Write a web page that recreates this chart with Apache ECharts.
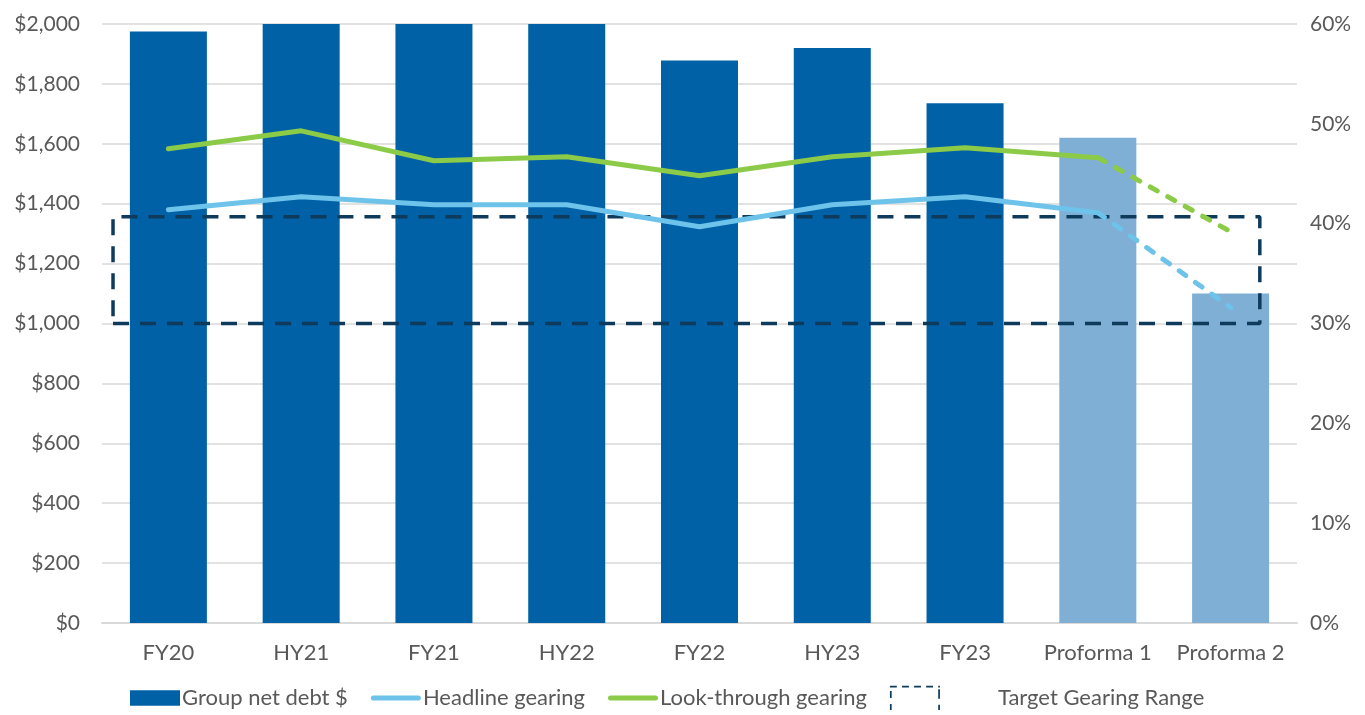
<!DOCTYPE html>
<html>
<head>
<meta charset="utf-8">
<script src="https://cdn.jsdelivr.net/npm/echarts@6/dist/echarts.min.js"></script>
<style>
html,body{margin:0;padding:0;background:#fff;}
#chart{width:1365px;height:715px;}
</style>
</head>
<body>
<div id="chart"></div>
<script>
const categories = ['FY20','HY21','FY21','HY22','FY22','HY23','FY23','Proforma 1','Proforma 2'];
const netDebt = [1975, 2050, 2050, 2050, 1878, 1920, 1735, 1620, 1100];
const proformaFlags = [false, false, false, false, false, false, false, true, true];
const headlineGearing = [41.4, 42.7, 41.9, 41.9, 39.7, 41.9, 42.7, 41.1, 31.6];
const lookThroughGearing = [47.5, 49.3, 46.3, 46.7, 44.8, 46.7, 47.6, 46.6, 39.2];
const targetRangeX = [0.083, 8.72];
const targetRangeY = [30, 40.7];
const leftTicks = {min: 0, max: 2000, interval: 200};
const rightTicks = {min: 0, max: 60, interval: 10};

const DARK = '#0061A7';
const LIGHT = '#7FAFD4';
const HEAD = '#6DC3EA';
const LOOK = '#8CCB48';
const NAVY = '#0E3A5B';
const TXT = '#595959';
const FONT = 'Lato';

const solidPart = arr => arr.map((v, i) => (i < arr.length - 1 ? v : null));
const dashPart = arr => arr.map((v, i) => (i >= arr.length - 2 ? v : null));

const rectData = [
  [targetRangeX[0], targetRangeY[0]],
  [targetRangeX[1], targetRangeY[0]],
  [targetRangeX[1], targetRangeY[1]],
  [targetRangeX[0], targetRangeY[1]],
  [targetRangeX[0], targetRangeY[0]]
];

const dashBoxIcon = 'path://M0,0h8v2h-8z M14,0h8v2h-8z M28,0h8v2h-8z M42,0h8v2h-8z M56,0h2v2h-2z M56,4h2v11h-2z M56,22h2v6h-2z M0,6h2v8h-2z M0,21h2v7h-2z';
const barIcon = 'path://M0,0h45v14h-45z';
const lineIcon = 'path://M2.5,0h45a2.5,2.5 0 0 1 0,5h-45a2.5,2.5 0 0 1 0,-5z';

const chart = echarts.init(document.getElementById('chart'));
chart.setOption({
  animation: false,
  textStyle: {fontFamily: FONT},
  grid: {left: 102, right: 68, top: 24, bottom: 92, containLabel: false},
  legend: {
    bottom: 0,
    left: 125,
    itemWidth: 50,
    itemHeight: 28,
    itemGap: 23,
    textStyle: {color: TXT, fontSize: 22, fontFamily: FONT, padding: [0, 0, 0, -3]},
    data: [
      {name: 'Group net debt $', icon: barIcon},
      {name: 'Headline gearing', icon: lineIcon},
      {name: 'Look-through gearing', icon: lineIcon},
      {name: 'Target Gearing Range', icon: dashBoxIcon, textStyle: {padding: [0, 0, 0, 53]}}
    ]
  },
  xAxis: [
    {
      type: 'category',
      data: categories,
      axisLine: {show: true, lineStyle: {color: '#D9D9D9', width: 2}},
      axisTick: {show: false},
      axisLabel: {color: TXT, fontSize: 22, margin: 19, fontFamily: FONT, interval: 0}
    },
    {
      type: 'value', min: 0, max: 9, show: false, gridIndex: 0
    }
  ],
  yAxis: [
    {
      type: 'value',
      min: leftTicks.min, max: leftTicks.max, interval: leftTicks.interval,
      axisLine: {show: false}, axisTick: {show: false},
      splitLine: {lineStyle: {color: '#D9D9D9', width: 1.5}},
      axisLabel: {color: TXT, fontSize: 21, margin: 22, fontFamily: FONT,
        formatter: v => '$' + v.toLocaleString('en-US')}
    },
    {
      type: 'value',
      min: rightTicks.min, max: rightTicks.max, interval: rightTicks.interval,
      axisLine: {show: false}, axisTick: {show: false},
      splitLine: {show: false},
      axisLabel: {color: TXT, fontSize: 21, margin: 13, fontFamily: FONT,
        formatter: v => v + '%'}
    }
  ],
  series: [
    {
      name: 'Group net debt $',
      type: 'bar',
      barWidth: '58%',
      clip: true,
      itemStyle: {color: DARK},
      data: netDebt.map((v, i) => proformaFlags[i] ? {value: v, itemStyle: {color: LIGHT}} : v),
      z: 1
    },
    {
      name: 'Target Gearing Range',
      type: 'line',
      xAxisIndex: 1,
      yAxisIndex: 1,
      data: rectData,
      symbol: 'none',
      itemStyle: {color: NAVY},
      lineStyle: {color: NAVY, width: 3.5, type: [16, 11]},
      z: 2
    },
    {
      name: 'Headline gearing',
      type: 'line',
      yAxisIndex: 1,
      data: solidPart(headlineGearing),
      symbol: 'none',
      itemStyle: {color: HEAD},
      lineStyle: {color: HEAD, width: 5, cap: 'round', join: 'round'},
      z: 3
    },
    {
      name: 'Headline gearing proforma',
      type: 'line',
      yAxisIndex: 1,
      data: dashPart(headlineGearing),
      symbol: 'none',
      itemStyle: {color: HEAD},
      lineStyle: {color: HEAD, width: 5, cap: 'round', type: [8, 12]},
      z: 3
    },
    {
      name: 'Look-through gearing',
      type: 'line',
      yAxisIndex: 1,
      data: solidPart(lookThroughGearing),
      symbol: 'none',
      itemStyle: {color: LOOK},
      lineStyle: {color: LOOK, width: 5, cap: 'round', join: 'round'},
      z: 3
    },
    {
      name: 'Look-through gearing proforma',
      type: 'line',
      yAxisIndex: 1,
      data: dashPart(lookThroughGearing),
      symbol: 'none',
      itemStyle: {color: LOOK},
      lineStyle: {color: LOOK, width: 5, cap: 'round', type: [8, 12]},
      z: 3
    }
  ]
});
</script>
</body>
</html>
